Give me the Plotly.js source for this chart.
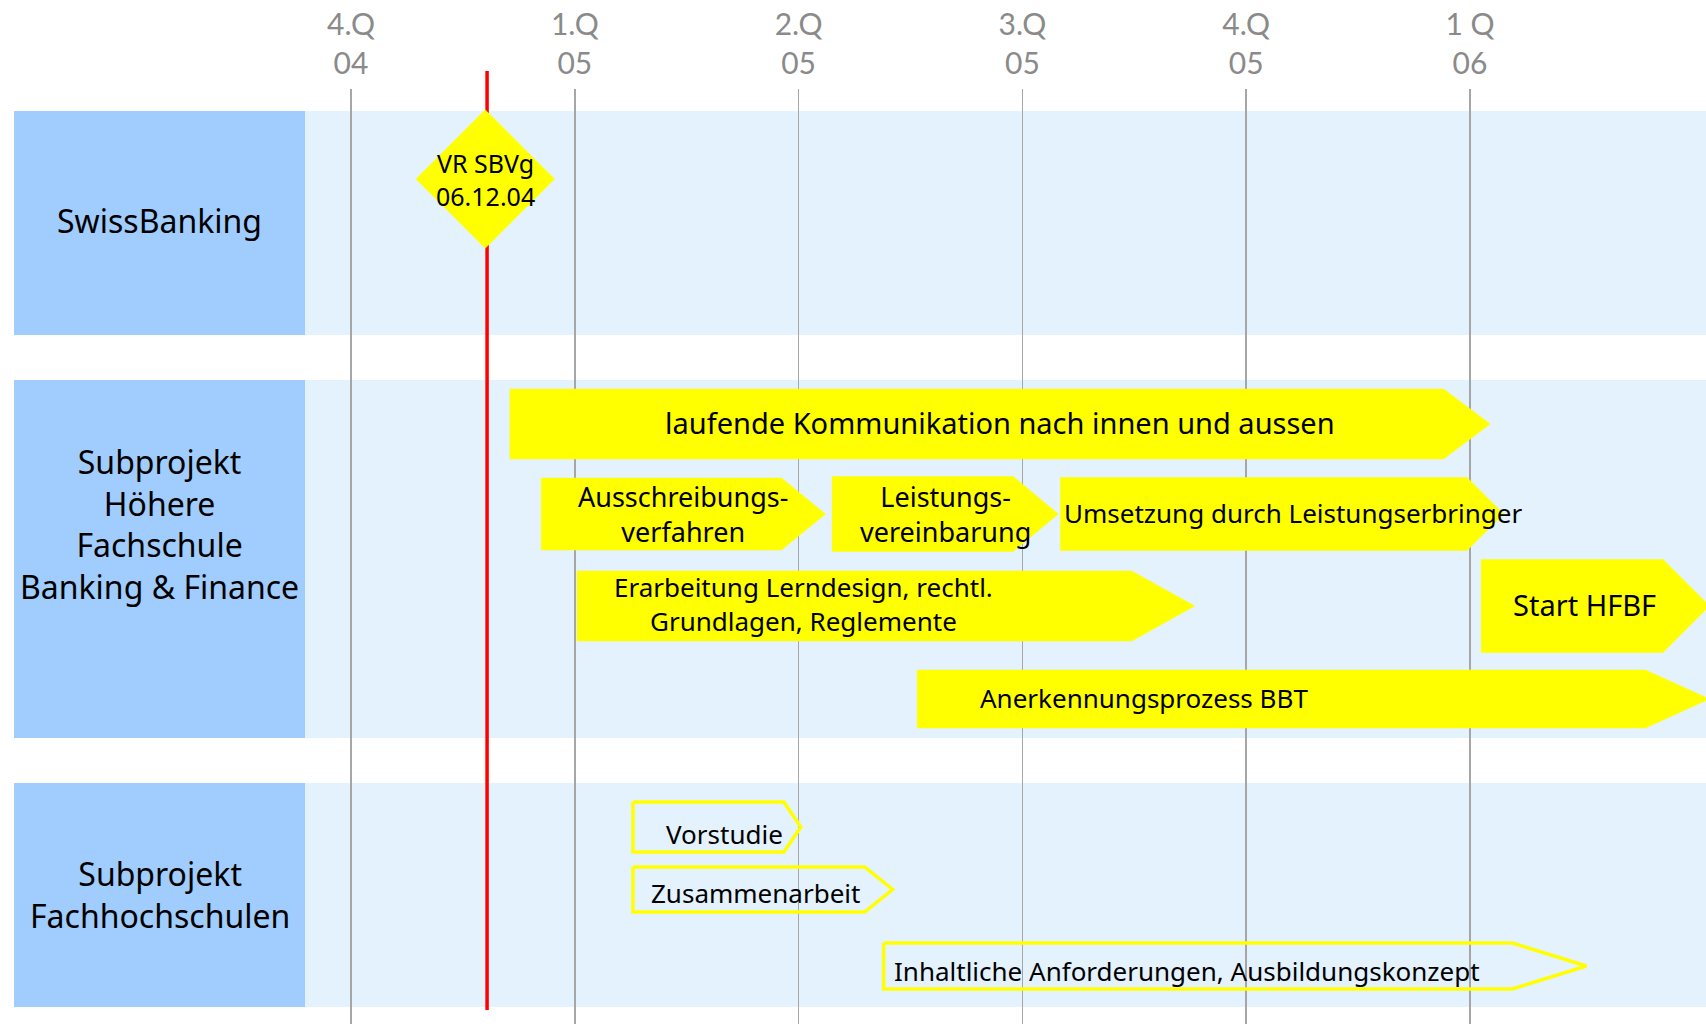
<!DOCTYPE html>
<html><head><meta charset="utf-8">
<script src="https://cdn.plot.ly/plotly-3.0.1.min.js"></script>
<style>html,body{margin:0;padding:0;background:#fff;} #chart{width:1706px;height:1024px;}</style>
</head><body><div id="chart"></div>
<script>
// ---------------- data ----------------
const quarterPos = [0, 1, 2, 3, 4, 5];
const quarterLabels = ["4.Q<br>04", "1.Q<br>05", "2.Q<br>05", "3.Q<br>05", "4.Q<br>05", "1 Q<br>06"];

const groupNames = ["SwissBanking", "Subprojekt<br>Höhere<br>Fachschule<br>Banking & Finance", "Subprojekt<br>Fachhochschulen"];

const milestoneNames = ["VR SBVg<br>06.12.04"];
const milestoneAt = [0.6];          // in quarters after 4.Q 04
const milestoneGroup = [0];

const taskNames = [
  "laufende Kommunikation nach innen und aussen",
  "Ausschreibungs-<br>verfahren",
  "Leistungs-<br>vereinbarung",
  "Umsetzung durch Leistungserbringer",
  "Erarbeitung Lerndesign, rechtl.<br>Grundlagen, Reglemente",
  "Start HFBF",
  "Anerkennungsprozess BBT",
  "Vorstudie",
  "Zusammenarbeit",
  "Inhaltliche Anforderungen, Ausbildungskonzept"
];
const taskGroup  = [1, 1, 1, 1, 1, 1, 1, 2, 2, 2];
const taskRow    = [0, 1, 1, 1, 2, 2, 3, 0, 1, 2];
const taskStart  = [0.71, 0.85, 2.15, 3.17, 1.01, 5.05, 2.53, 1.26, 1.26, 2.38];
const taskEnd    = [5.09, 2.12, 3.16, 5.15, 3.77, 6.07, 6.07, 2.01, 2.42, 5.52];
const taskFilled = [true, true, true, true, true, true, true, false, false, false];

// ---------------- layout / style ----------------
const W = 1706, H = 1024, TOP = 89;
const plotH = H - TOP;
const X_ORIGIN_PX = 351, PX_PER_Q = 223.8;
const xRange = [-X_ORIGIN_PX / PX_PER_Q, (W - X_ORIGIN_PX) / PX_PER_Q];

const FONT = "Noto Sans, Open Sans, DejaVu Sans, sans-serif";
const YELLOW = "#FFFF00";
const BOX_BLUE = "#A0CDFE";
const BAND_BLUE = "#E4F2FD";

const bandY = [[22, 246], [291, 649], [694, 918]];   // px below plot top
const labelBoxX = [14, 305];                          // px
const groupLabelY = [132, 435, 805];
const milestoneY = [90];
const milestoneSize = 107;
const rowY = {1: [335, 425, 517, 610], 2: [738, 800.5, 877]};

const taskHeight = [70, 72, 75, 73, 70, 93, 58, 50, 45, 46];
const taskTip    = [46.5, 44, 45, 36.5, 63, 46.5, 64, 17, 28, 74];
const taskPad    = [null, null, null, 2, 35, 30, 61, 31, 16, 8];   // null = centred
const taskFont   = [29, 27, 27, 26, 26, 29, 26, 26, 26, 26];
const taskShift  = [-2, 0, 0, -1, -2, -2, -1, 7, 3, 5];           // px downwards

const qPerPx = 1 / PX_PER_Q;
const pxToPaperX = px => px / W;
const yToPaper = y => 1 - y / plotH;
const qToPaperX = q => (q - xRange[0]) / (xRange[1] - xRange[0]);

const traces = [];
const annotations = [];
const shapes = [];

// background bands and group label boxes
bandY.forEach((b, i) => {
  shapes.push({type: "rect", layer: "below", xref: "paper", yref: "paper",
    x0: pxToPaperX(labelBoxX[1]), x1: 1, y0: yToPaper(b[1]), y1: yToPaper(b[0]),
    fillcolor: BAND_BLUE, line: {width: 0}});
  shapes.push({type: "rect", layer: "below", xref: "paper", yref: "paper",
    x0: pxToPaperX(labelBoxX[0]), x1: pxToPaperX(labelBoxX[1]), y0: yToPaper(b[1]), y1: yToPaper(b[0]),
    fillcolor: BOX_BLUE, line: {width: 0}});
  annotations.push({xref: "paper", yref: "paper",
    x: pxToPaperX((labelBoxX[0] + labelBoxX[1]) / 2), y: yToPaper(groupLabelY[i]),
    xanchor: "center", yanchor: "middle", align: "center", showarrow: false,
    text: groupNames[i], font: {family: FONT, size: 32, color: "#000"}});
});

// milestone line and diamond
milestoneAt.forEach((m, i) => {
  shapes.push({type: "line", layer: "below", xref: "paper", yref: "paper",
    x0: qToPaperX(m + 0.008), x1: qToPaperX(m + 0.008), y0: yToPaper(921), y1: yToPaper(-18),
    line: {color: "#FF0000", width: 3.5}});
  traces.push({type: "scatter", mode: "markers", x: [m], y: [milestoneY[i]],
    marker: {symbol: "diamond", size: milestoneSize, color: YELLOW, line: {width: 0}},
    hoverinfo: "skip", showlegend: false, cliponaxis: false});
  annotations.push({xref: "x", yref: "y", x: m, y: milestoneY[i],
    xanchor: "center", yanchor: "middle", align: "center", showarrow: false,
    text: milestoneNames[i], font: {family: FONT, size: 25, color: "#000"}});
});

// task arrows
taskNames.forEach((name, i) => {
  const s = taskStart[i], e = taskEnd[i];
  const c = rowY[taskGroup[i]][taskRow[i]];
  const h = taskHeight[i] / 2;
  const tip = taskTip[i] * qPerPx;
  const xs = [s, e - tip, e, e - tip, s, s];
  const ys = [c - h, c - h, c, c + h, c + h, c - h];
  if (taskFilled[i]) {
    traces.push({type: "scatter", mode: "lines", x: xs, y: ys, fill: "toself",
      fillcolor: YELLOW, line: {color: YELLOW, width: 0.5}, hoverinfo: "skip", showlegend: false});
  } else {
    traces.push({type: "scatter", mode: "lines", x: xs, y: ys,
      line: {color: YELLOW, width: 3.5}, hoverinfo: "skip", showlegend: false});
  }
  const centred = taskPad[i] === null;
  annotations.push({xref: "x", yref: "y",
    x: centred ? (s + e) / 2 : s + taskPad[i] * qPerPx,
    y: c + taskShift[i],
    xanchor: centred ? "center" : "left", yanchor: "middle", align: "center",
    showarrow: false, text: name, font: {family: FONT, size: taskFont[i], color: "#000"}});
});

const layout = {
  width: W, height: H,
  margin: {l: 0, r: 0, t: TOP, b: 0, pad: 0},
  paper_bgcolor: "#ffffff", plot_bgcolor: "rgba(0,0,0,0)",
  showlegend: false, hovermode: false,
  xaxis: {range: xRange, side: "top", tickmode: "array", tickvals: quarterPos, ticktext: quarterLabels,
    showgrid: true, gridcolor: "#A6A6A6", gridwidth: 1.5, zeroline: false, showline: false,
    ticks: "", ticklabelstandoff: 8,
    tickfont: {family: "Lato, Noto Sans, sans-serif", size: 30, color: "#8A8A8A"}, fixedrange: true},
  yaxis: {range: [plotH, 0], visible: false, showgrid: false, zeroline: false, fixedrange: true},
  shapes: shapes,
  annotations: annotations
};

Plotly.newPlot("chart", traces, layout, {displayModeBar: false, staticPlot: true});
</script>
</body></html>
